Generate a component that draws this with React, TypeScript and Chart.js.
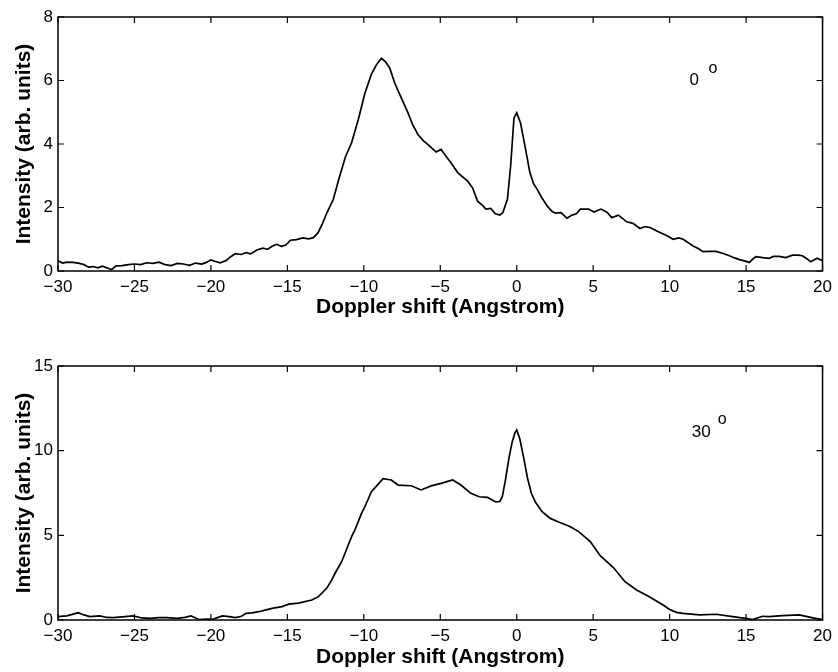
import { useEffect, useRef } from 'react';
import { Chart, registerables } from 'chart.js';

Chart.register(...registerables);

const FONT = '"Liberation Sans", Arial, Helvetica, sans-serif';

// Common x axis ticks (Doppler shift, Angstrom)
const xTickValues = [-30, -25, -20, -15, -10, -5, 0, 5, 10, 15, 20];
const yTickValues0 = [0, 2, 4, 6, 8];
const yTickValues30 = [0, 5, 10, 15];

const xAxisTitle = 'Doppler shift (Angstrom)';
const yAxisTitle = 'Intensity (arb. units)';

// 0 degree spectrum
const shift0 = [
  -30, -29.7, -29.4, -29, -28.6, -28.3, -28, -27.7, -27.4, -27.1, -26.8, -26.5, -26.2, -25.8, -25.4, -25,
  -24.6, -24.2, -23.8, -23.4, -23, -22.6, -22.2, -21.8, -21.4, -21, -20.6, -20.3, -20, -19.7, -19.4, -19,
  -18.7, -18.4, -18, -17.7, -17.4, -17, -16.6, -16.3, -16, -15.7, -15.4, -15.1, -14.8, -14.4, -14, -13.6,
  -13.3, -13, -12.7, -12.4, -12, -11.6, -11.2, -10.8, -10.36, -9.93, -9.5, -9.17, -8.85, -8.6, -8.3, -7.98,
  -7.55, -7.11, -6.8, -6.46, -6.1, -5.8, -5.5, -5.27, -4.95, -4.6, -4.3, -3.86, -3.5, -3.21, -2.89, -2.56,
  -2.2, -2.02, -1.7, -1.4, -1.1, -0.9, -0.61, -0.4, -0.18, 0, 0.25, 0.58, 0.86, 1.1, 1.34, 1.65,
  1.99, 2.3, 2.53, 2.9, 3.29, 3.61, 3.9, 4.16, 4.7, 5.06, 5.5, 5.9, 6.22, 6.65, 7.19, 7.6,
  8.06, 8.4, 8.71, 9.36, 9.8, 10.23, 10.6, 10.88, 11.2, 11.53, 11.9, 12.18, 12.6, 13.04, 13.5, 13.91,
  14.2, 14.56, 14.9, 15.21, 15.45, 15.64, 16.1, 16.51, 16.8, 17.16, 17.6, 18.03, 18.4, 18.68, 19.0, 19.22,
  19.65, 20,
];
const intensity0 = [
  0.32, 0.25, 0.28, 0.27, 0.24, 0.2, 0.12, 0.14, 0.1, 0.15, 0.1, 0.04, 0.16, 0.17, 0.2, 0.22,
  0.2, 0.26, 0.24, 0.28, 0.2, 0.17, 0.24, 0.22, 0.18, 0.25, 0.22, 0.27, 0.35, 0.3, 0.26, 0.33,
  0.45, 0.55, 0.52, 0.58, 0.54, 0.66, 0.72, 0.68, 0.78, 0.84, 0.78, 0.82, 0.97, 0.99, 1.04, 1.01,
  1.05, 1.2, 1.5, 1.85, 2.25, 2.95, 3.6, 4.04, 4.77, 5.6, 6.2, 6.5, 6.7, 6.6, 6.39, 5.92,
  5.45, 4.98, 4.6, 4.3, 4.1, 3.98, 3.85, 3.75, 3.83, 3.6, 3.41, 3.1, 2.95, 2.83, 2.62, 2.2,
  2.05, 1.95, 1.97, 1.8, 1.76, 1.85, 2.26, 3.3, 4.82, 4.98, 4.66, 3.83, 3.1, 2.75, 2.57, 2.3,
  2.05, 1.88, 1.82, 1.84, 1.66, 1.76, 1.8, 1.95, 1.95, 1.86, 1.95, 1.85, 1.68, 1.76, 1.55, 1.5,
  1.34, 1.4, 1.37, 1.21, 1.12, 1.0, 1.04, 1.0, 0.9, 0.79, 0.7, 0.61, 0.62, 0.62, 0.55, 0.48,
  0.42, 0.36, 0.32, 0.27, 0.38, 0.45, 0.42, 0.4, 0.46, 0.46, 0.42, 0.5, 0.5, 0.48, 0.38, 0.29,
  0.4, 0.32,
];

// 30 degree spectrum
const shift30 = [
  -30, -29.44, -29, -28.68, -28.3, -27.92, -27.27, -26.8, -26.4, -25.8, -25.1, -24.5, -24, -23.4, -22.9, -22.2,
  -21.7, -21.3, -20.75, -20.3, -19.9, -19.25, -18.8, -18.4, -18, -17.7, -17.3, -16.87, -16.4, -16, -15.35, -14.9,
  -14.27, -13.4, -12.97, -12.43, -12.1, -11.88, -11.45, -11.23, -10.8, -10.58, -10.15, -9.93, -9.5, -9.28, -8.74, -8.2,
  -7.76, -6.9, -6.25, -5.6, -4.95, -4.19, -3.65, -3.0, -2.45, -1.91, -1.37, -1.1, -0.94, -0.75, -0.5, -0.3,
  -0.12, 0, 0.2, 0.45, 0.7, 0.95, 1.23, 1.66, 2.2, 2.7, 3.07, 3.51, 4.05, 4.81, 5.46, 6.32,
  7.08, 7.84, 8.7, 9.57, 10.0, 10.45, 10.87, 11.95, 13.04, 14.12, 14.6, 14.99, 15.42, 16.07, 16.5, 17.37,
  18.46, 19.54, 20,
];
const intensity30 = [
  0.2, 0.24, 0.35, 0.43, 0.3, 0.2, 0.24, 0.15, 0.14, 0.18, 0.24, 0.12, 0.1, 0.14, 0.14, 0.1,
  0.16, 0.24, 0.02, 0.06, 0.04, 0.24, 0.2, 0.14, 0.22, 0.39, 0.42, 0.49, 0.6, 0.69, 0.79, 0.94,
  1.0, 1.18, 1.38, 1.87, 2.36, 2.76, 3.44, 3.94, 4.92, 5.32, 6.3, 6.7, 7.58, 7.8, 8.35, 8.27,
  7.97, 7.93, 7.68, 7.92, 8.07, 8.27, 7.97, 7.48, 7.28, 7.24, 6.97, 7.0, 7.3, 8.2, 9.6, 10.5,
  11.05, 11.22, 10.7, 9.6, 8.4, 7.5, 6.95, 6.4, 6.0, 5.8, 5.67, 5.51, 5.22, 4.63, 3.8, 3.1,
  2.26, 1.77, 1.36, 0.89, 0.62, 0.45, 0.39, 0.3, 0.34, 0.2, 0.14, 0.1, 0.02, 0.22, 0.2, 0.26,
  0.3, 0.1, 0.02,
];

type AngleLabel = { text: string; x: number; y: number; size: number };

const angleLabels0: AngleLabel[] = [
  { text: '0', x: 11.61, y: 6.02, size: 17 },
  { text: 'o', x: 12.83, y: 6.37, size: 16 },
];
const angleLabels30: AngleLabel[] = [
  { text: '30', x: 12.07, y: 11.1, size: 17 },
  { text: 'o', x: 13.43, y: 11.81, size: 16 },
];

const fmt = (v: number | string) => {
  const n = Number(v);
  return n < 0 ? '\u2212' + Math.abs(n) : String(n);
};

function makeFramePlugin(labels: AngleLabel[]) {
  return {
    id: 'matlabFrame',
    afterDraw(chart: any) {
      const { ctx, chartArea } = chart;
      const { left, right, top, bottom } = chartArea;
      const xs = chart.scales.x;
      const ys = chart.scales.y;
      ctx.save();
      ctx.strokeStyle = '#000';
      ctx.lineWidth = 1.5;
      ctx.strokeRect(left, top, right - left, bottom - top);
      ctx.lineWidth = 1.2;
      const L = 6;
      ctx.beginPath();
      xs.ticks.forEach((t: any) => {
        const px = xs.getPixelForValue(t.value);
        ctx.moveTo(px, bottom);
        ctx.lineTo(px, bottom - L);
        ctx.moveTo(px, top);
        ctx.lineTo(px, top + L);
      });
      ys.ticks.forEach((t: any) => {
        const py = ys.getPixelForValue(t.value);
        ctx.moveTo(left, py);
        ctx.lineTo(left + L, py);
        ctx.moveTo(right, py);
        ctx.lineTo(right - L, py);
      });
      ctx.stroke();
      ctx.fillStyle = '#000';
      ctx.textAlign = 'center';
      ctx.textBaseline = 'middle';
      labels.forEach((l) => {
        ctx.font = `${l.size}px ${FONT}`;
        ctx.fillText(l.text, xs.getPixelForValue(l.x), ys.getPixelForValue(l.y));
      });
      ctx.restore();
    },
  };
}

type PanelProps = {
  shift: number[];
  intensity: number[];
  yMax: number;
  yTicks: number[];
  labels: AngleLabel[];
  padTop: number;
  xAxisHeight: number;
  titleBottomPad: number;
};

function Panel({ shift, intensity, yMax, yTicks, labels, padTop, xAxisHeight, titleBottomPad }: PanelProps) {
  const ref = useRef<HTMLCanvasElement | null>(null);
  useEffect(() => {
    if (!ref.current) return;
    const chart = new Chart(ref.current, {
      type: 'scatter',
      data: {
        datasets: [
          {
            data: shift.map((s, i) => ({ x: s, y: intensity[i] })),
            showLine: true,
            borderColor: '#000',
            backgroundColor: '#000',
            borderWidth: 1.7,
            pointRadius: 0,
            tension: 0,
          },
        ],
      },
      options: {
        responsive: false,
        animation: false,
        layout: { padding: { left: 0, right: 11, top: padTop, bottom: 0 } },
        plugins: {
          legend: { display: false },
          tooltip: { enabled: false },
        },
        scales: {
          x: {
            type: 'linear',
            min: -30,
            max: 20,
            afterBuildTicks: (s: any) => {
              s.ticks = xTickValues.map((v) => ({ value: v }));
            },
            afterFit: (s: any) => {
              s.height = xAxisHeight;
            },
            grid: { display: false, drawTicks: false },
            border: { display: false },
            ticks: {
              color: '#000',
              font: { family: FONT, size: 17 },
              padding: 6,
              maxRotation: 0,
              autoSkip: false,
              callback: fmt,
            },
            title: {
              display: true,
              text: xAxisTitle,
              color: '#000',
              font: { family: FONT, size: 21, weight: 'bold' },
              padding: { top: 0, bottom: titleBottomPad },
            },
          },
          y: {
            type: 'linear',
            min: 0,
            max: yMax,
            afterBuildTicks: (s: any) => {
              s.ticks = yTicks.map((v) => ({ value: v }));
            },
            afterFit: (s: any) => {
              s.width = 58;
            },
            grid: { display: false, drawTicks: false },
            border: { display: false },
            ticks: {
              color: '#000',
              font: { family: FONT, size: 17 },
              padding: 5,
              autoSkip: false,
              callback: fmt,
            },
            title: {
              display: true,
              text: yAxisTitle,
              color: '#000',
              font: { family: FONT, size: 21, weight: 'bold' },
              padding: { top: 12, bottom: 0 },
            },
          },
        },
      } as any,
      plugins: [makeFramePlugin(labels)],
    });
    return () => chart.destroy();
  }, []);
  return <canvas ref={ref} width={838} height={336} style={{ display: 'block', width: 838, height: 336 }} />;
}

export default function App() {
  return (
    <div style={{ position: 'absolute', left: 0, top: 0, width: 838, height: 672, background: '#fff' }}>
      <Panel
        shift={shift0}
        intensity={intensity0}
        yMax={8}
        yTicks={yTickValues0}
        labels={angleLabels0}
        padTop={17}
        xAxisHeight={65}
        titleBottomPad={16}
      />
      <Panel
        shift={shift30}
        intensity={intensity30}
        yMax={15}
        yTicks={yTickValues30}
        labels={angleLabels30}
        padTop={30}
        xAxisHeight={52}
        titleBottomPad={2}
      />
    </div>
  );
}
